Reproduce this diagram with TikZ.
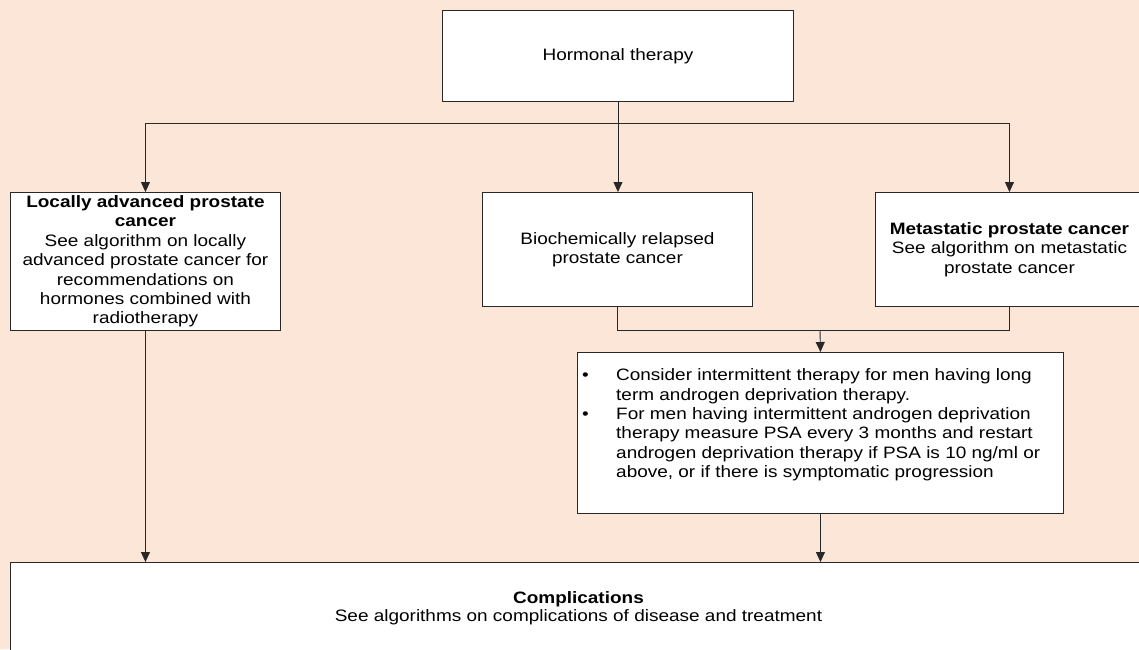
\documentclass[tikz,border=0pt]{standalone}
\usepackage{fontspec}
\setmainfont{Liberation Sans}[FakeStretch=1.15]
\usetikzlibrary{arrows.meta}
\definecolor{bgpeach}{RGB}{251,230,215}
\definecolor{edge}{RGB}{40,40,40}
\begin{document}
\begin{tikzpicture}[x=1pt,y=-1pt,
  box/.style={draw=edge, fill=white, line width=0.9pt, inner sep=0pt, align=center},
  arr/.style={draw=edge, line width=0.9pt, -{Triangle[length=10pt,width=9pt]}},
  ln/.style={draw=edge, line width=0.9pt},
  font=\fontsize{16.5}{19.4}\selectfont]
\clip (0,0) rectangle (1139,649);
\fill[bgpeach] (0,0) rectangle (1139,649);
% boxes
\node[box, anchor=north west, minimum width=351pt, minimum height=91pt] (top) at (442,10) {Hormonal therapy};
\node[box, anchor=north west, minimum width=270pt, minimum height=138pt] (loc) at (10,192)
  {\textbf{Locally advanced prostate}\\\textbf{cancer}\\See algorithm on locally\\advanced prostate cancer for\\recommendations on\\hormones combined with\\radiotherapy};
\node[box, anchor=north west, minimum width=270pt, minimum height=114pt] (bio) at (482,192)
  {Biochemically relapsed\\prostate cancer};
\node[box, anchor=north west, minimum width=268pt, minimum height=114pt] (meta) at (875,192)
  {\textbf{Metastatic prostate cancer}\\See algorithm on metastatic\\prostate cancer};
\node[box, anchor=north west, minimum width=486pt, minimum height=161pt] (adt) at (577,352) {};
\node[anchor=north west, inner sep=0pt, align=left] (adttext) at (582,367)
  {\begin{tabular}{@{}p{34pt}@{}l@{}}
   \textbullet & Consider intermittent therapy for men having long\\
   & term androgen deprivation therapy.\\
   \textbullet & For men having intermittent androgen deprivation\\
   & therapy measure PSA every 3 months and restart\\
   & androgen deprivation therapy if PSA is 10 ng/ml or\\
   & above, or if there is symptomatic progression
   \end{tabular}};
\node[box, anchor=north west, minimum width=1136pt, minimum height=92pt, font=\fontsize{16.5}{18}\selectfont] (comp) at (10,562)
  {\textbf{Complications}\\See algorithms on complications of disease and treatment};
% connectors
\coordinate (split) at (617.5,123);
\coordinate (merge) at (820,330);
\draw[arr] (top.south) -- (top.south |- bio.north);
\draw[arr] (split) -| (loc.north);
\draw[arr] (split) -| (meta.north);
\draw[ln] (bio.south) |- (merge) -| (meta.south);
\draw[arr] (merge) -- (adt.north);
\draw[arr] (adt.south) -- (adt.south |- comp.north);
\draw[arr] (loc.south) -- (loc.south |- comp.north);
\end{tikzpicture}
\end{document}
